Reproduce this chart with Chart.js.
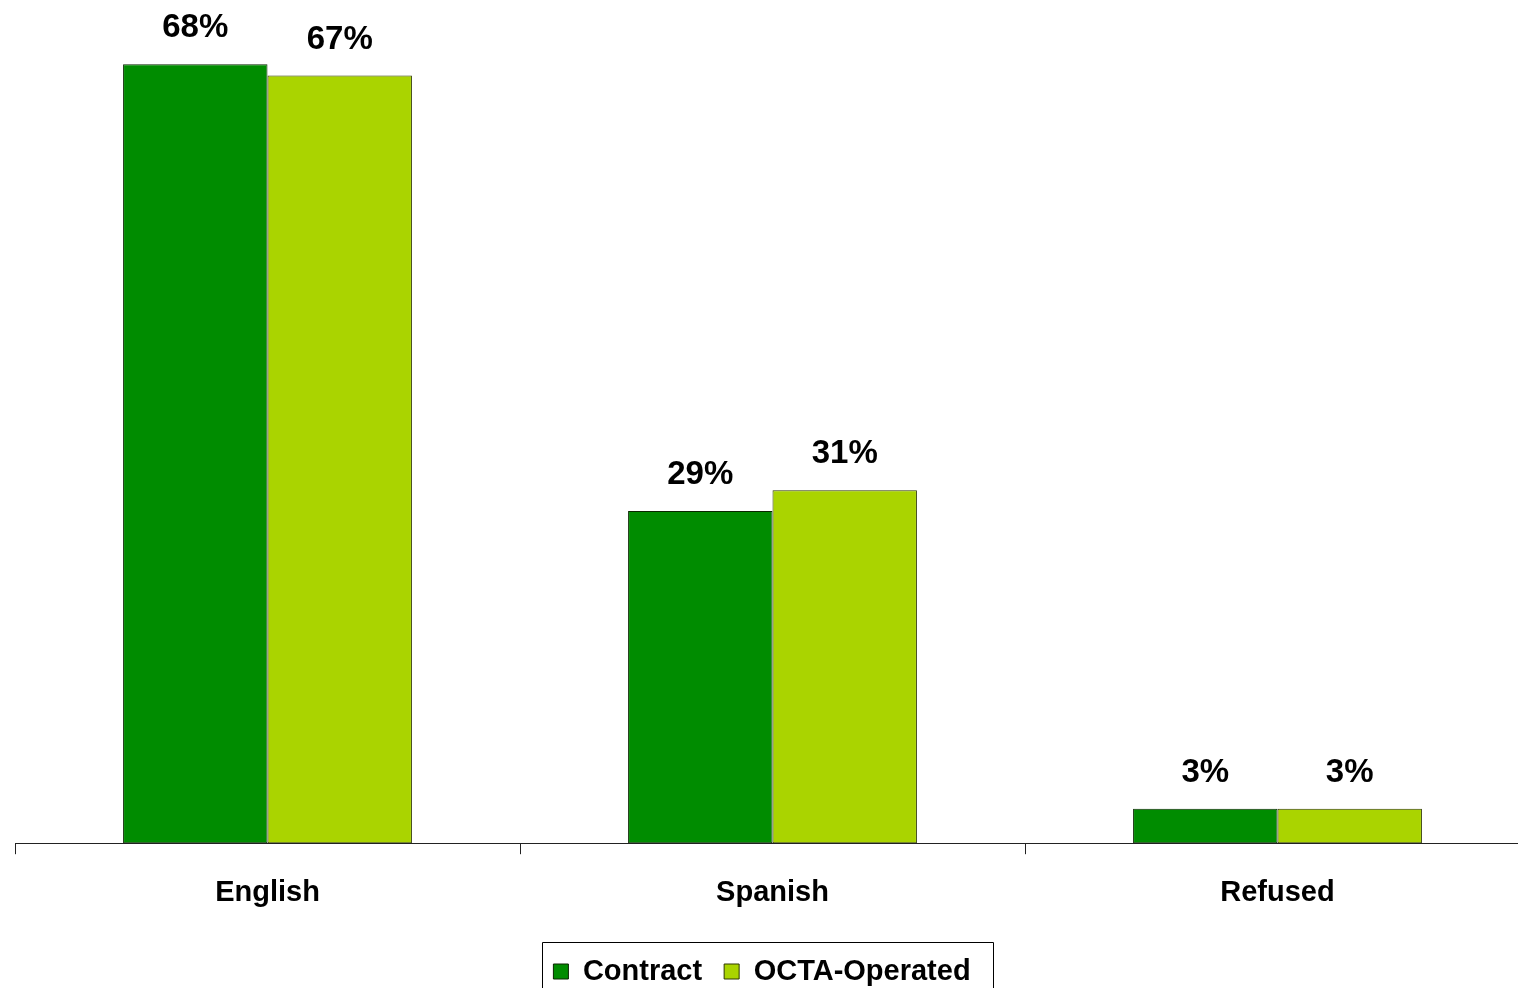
<!DOCTYPE html>
<html>
<head>
<meta charset="utf-8">
<script src="https://cdn.jsdelivr.net/npm/chart.js@4"></script>
<style>
  html, body { margin: 0; padding: 0; background: #fff; overflow: hidden; }
  #wrap { position: relative; width: 1530px; height: 996px; }
</style>
</head>
<body>
<div id="wrap"><canvas id="chart"></canvas></div>
<script>
const categories = ["English", "Spanish", "Refused"];
const contractValues = [68, 29, 3];
const octaValues = [67, 30.8, 3];
const seriesNames = ["Contract", "OCTA-Operated"];

const FONT = "'Liberation Sans', Arial, sans-serif";

// percent labels above each bar
const valueLabels = {
  id: "valueLabels",
  afterDatasetsDraw(chart) {
    const ctx = chart.ctx;
    ctx.save();
    ctx.font = "bold 33px " + FONT;
    ctx.fillStyle = "#000";
    ctx.textAlign = "center";
    ctx.textBaseline = "alphabetic";
    chart.data.datasets.forEach((ds, i) => {
      chart.getDatasetMeta(i).data.forEach((bar, j) => {
        ctx.fillText(Math.round(ds.data[j]) + "%", bar.x, bar.y - 27);
      });
    });
    ctx.restore();
  },
};

// nudge the legend a bit left and put a frame round it
const legendBox = {
  id: "legendBox",
  afterLayout(chart) {
    chart.legend.left -= 21;
  },
  afterDraw(chart) {
    const boxes = chart.legend.legendHitBoxes;
    if (!boxes || !boxes.length) return;
    const first = boxes[0];
    const last = boxes[boxes.length - 1];
    const ctx = chart.ctx;
    ctx.save();
    ctx.strokeStyle = "#000";
    ctx.lineWidth = 1;
    const left = Math.round(first.left - 11) + 0.5;
    const right = Math.round(last.left + last.width + 22) + 0.5;
    const top = Math.round(first.top - 15) + 0.5;
    ctx.beginPath();
    ctx.moveTo(left, chart.height);
    ctx.lineTo(left, top);
    ctx.lineTo(right, top);
    ctx.lineTo(right, chart.height);
    ctx.stroke();
    ctx.restore();
  },
};

new Chart(document.getElementById("chart"), {
  type: "bar",
  data: {
    labels: categories,
    datasets: [
      {
        label: seriesNames[0],
        data: contractValues,
        backgroundColor: "#008C00",
        borderColor: "#0a2600",
        borderWidth: 1,
        borderSkipped: false,
      },
      {
        label: seriesNames[1],
        data: octaValues,
        backgroundColor: "#AAD400",
        borderColor: "#2e3800",
        borderWidth: 1,
        borderSkipped: false,
      },
    ],
  },
  options: {
    responsive: true,
    maintainAspectRatio: false,
    animation: false,
    layout: { padding: { left: 15, right: 0, top: 0, bottom: 0 } },
    datasets: { bar: { categoryPercentage: 0.572, barPercentage: 1 } },
    scales: {
      x: {
        offset: true,
        afterFit(scale) {
          scale.height += 4;
        },
        grid: {
          offset: true,
          drawOnChartArea: false,
          drawTicks: true,
          tickLength: 11,
          color: "#222",
        },
        border: { display: true, color: "#222", width: 1 },
        ticks: {
          color: "#000",
          padding: 21,
          font: { family: FONT, size: 29, weight: "bold" },
        },
      },
      y: {
        display: false,
        min: 0,
        max: 73.6,
      },
    },
    plugins: {
      tooltip: { enabled: false },
      legend: {
        position: "bottom",
        labels: {
          color: "#000",
          font: { family: FONT, size: 29, weight: "bold" },
          boxWidth: 15,
          boxHeight: 15,
          padding: 22,
        },
      },
    },
  },
  plugins: [valueLabels, legendBox],
});
</script>
</body>
</html>
